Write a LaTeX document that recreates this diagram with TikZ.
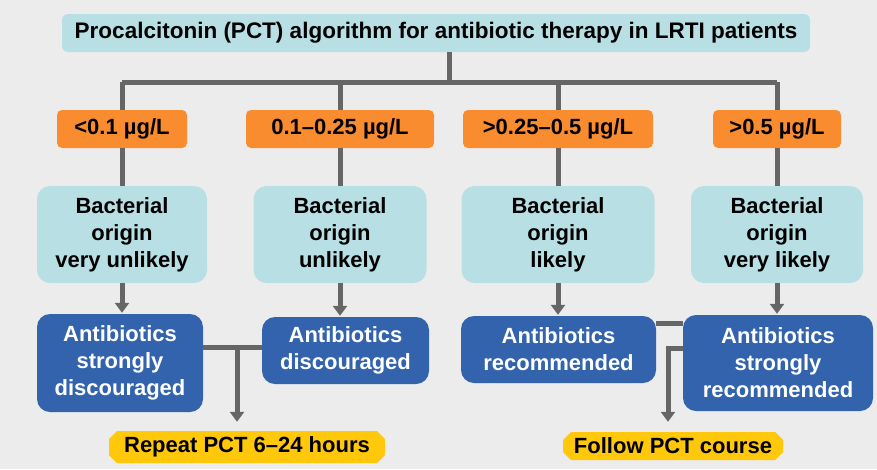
\documentclass[tikz,border=0pt]{standalone}
\usepackage{fontspec}
\setmainfont{Liberation Sans}
\usetikzlibrary{arrows.meta, shapes.misc}
\definecolor{bgc}{RGB}{236,236,236}
\definecolor{cyanlt}{RGB}{183,223,228}
\definecolor{orng}{RGB}{249,140,47}
\definecolor{navy}{RGB}{50,99,172}
\definecolor{gold}{RGB}{255,200,10}
\definecolor{lnc}{RGB}{102,102,102}
\tikzset{
  % all the texts
  txt/.style  = {font=\fontsize{22}{27}\selectfont\bfseries, inner sep=0pt},
  % the heading bar
  head/.style = {txt, font=\fontsize{22.5}{27}\selectfont\bfseries,
                 fill=cyanlt, rounded corners=6pt,
                 minimum width=748pt, minimum height=38pt},
  % a PCT range
  tag/.style  = {txt, fill=orng, rounded corners=5pt, minimum height=38pt},
  % how likely a bacterial origin is
  orig/.style = {txt, fill=cyanlt, rounded corners=13pt, align=center,
                 minimum height=97pt},
  % the advice on antibiotics
  abx/.style  = {txt, fill=navy, text=white, rounded corners=13pt,
                 align=center},
  % what to do next
  nxt/.style  = {txt, fill=gold, chamfered rectangle,
                 chamfered rectangle xsep=4pt, chamfered rectangle ysep=4pt},
  % a link
  ln/.style   = {draw=lnc, line width=5pt},
  arr/.style  = {ln, -{Triangle[length=10pt,width=14pt]}},
}

\begin{document}
\begin{tikzpicture}[x=1pt, y=-1pt]
  \fill[bgc] (0,0) rectangle (877,469);
  \useasboundingbox (0,0) rectangle (877,469);
  \node[head] (title) at (436,33)
        {Procalcitonin (PCT) algorithm for antibiotic therapy in LRTI patients};
  % ranges
  \node[tag, minimum width=130pt] (r1) at (122,129) {<0.1 µg/L};
  \node[tag, minimum width=188pt] (r2) at (340,129) {0.1–0.25 µg/L};
  \node[tag, minimum width=190pt] (r3) at (558,129) {>0.25–0.5 µg/L};
  \node[tag, minimum width=128pt] (r4) at (777,129) {>0.5 µg/L};
  % likelihood
  \node[orig, minimum width=170pt] (o1) at (122,234.5)
        {Bacterial\\origin\\very unlikely};
  \node[orig, minimum width=173pt] (o2) at (340,234.5)
        {Bacterial\\origin\\unlikely};
  \node[orig, minimum width=193pt] (o3) at (558,234.5)
        {Bacterial\\origin\\likely};
  \node[orig, minimum width=172pt] (o4) at (777,234.5)
        {Bacterial\\origin\\very likely};
  % advice
  \node[abx, minimum width=166pt, minimum height=98pt] (a1) at (120,363)
        {Antibiotics\\strongly\\discouraged};
  \node[abx, minimum width=167pt, minimum height=67pt] (a2) at (345.5,350.5)
        {Antibiotics\\discouraged};
  \node[abx, minimum width=195pt, minimum height=67pt] (a3) at (558.5,349.5)
        {Antibiotics\\recommended};
  \node[abx, minimum width=190pt, minimum height=96pt] (a4) at (778,363)
        {Antibiotics\\strongly\\recommended};
  % next steps
  \node[nxt, minimum width=276pt, minimum height=32pt] (rep) at (247,447)
        {Repeat PCT 6–24 hours};
  \node[nxt, minimum width=220pt, minimum height=28pt] (fol) at (673,446)
        {Follow PCT course};
  % links
  \coordinate (hub) at (449,82);
  \draw[ln] (title.south -| hub) -- (hub);
  \draw[ln] (r1.north |- hub) -- (r4.north |- hub);
  \foreach \i in {1,...,4} {
    \draw[ln] (r\i.north |- hub) -- (r\i.north);
    \draw[ln] (r\i.south) -- (o\i.north);
    \draw[arr] (o\i.south) -- ([yshift=1pt]o\i.south |- a\i.north);
  }
  \coordinate (jl) at (237,347);
  \draw[ln] (jl -| a1.east) -- (jl -| a2.west);
  \draw[arr] (jl) -- ([yshift=9pt]rep.north -| jl);
  \coordinate (jr) at (668,348);
  \coordinate (kr) at (668,323);
  \draw[ln] (kr -| a3.east) -- (kr -| a4.west);
  \draw[arr] (jr -| a4.west) -- (jr) -- ([yshift=10pt]fol.north -| jr);
\end{tikzpicture}
\end{document}
